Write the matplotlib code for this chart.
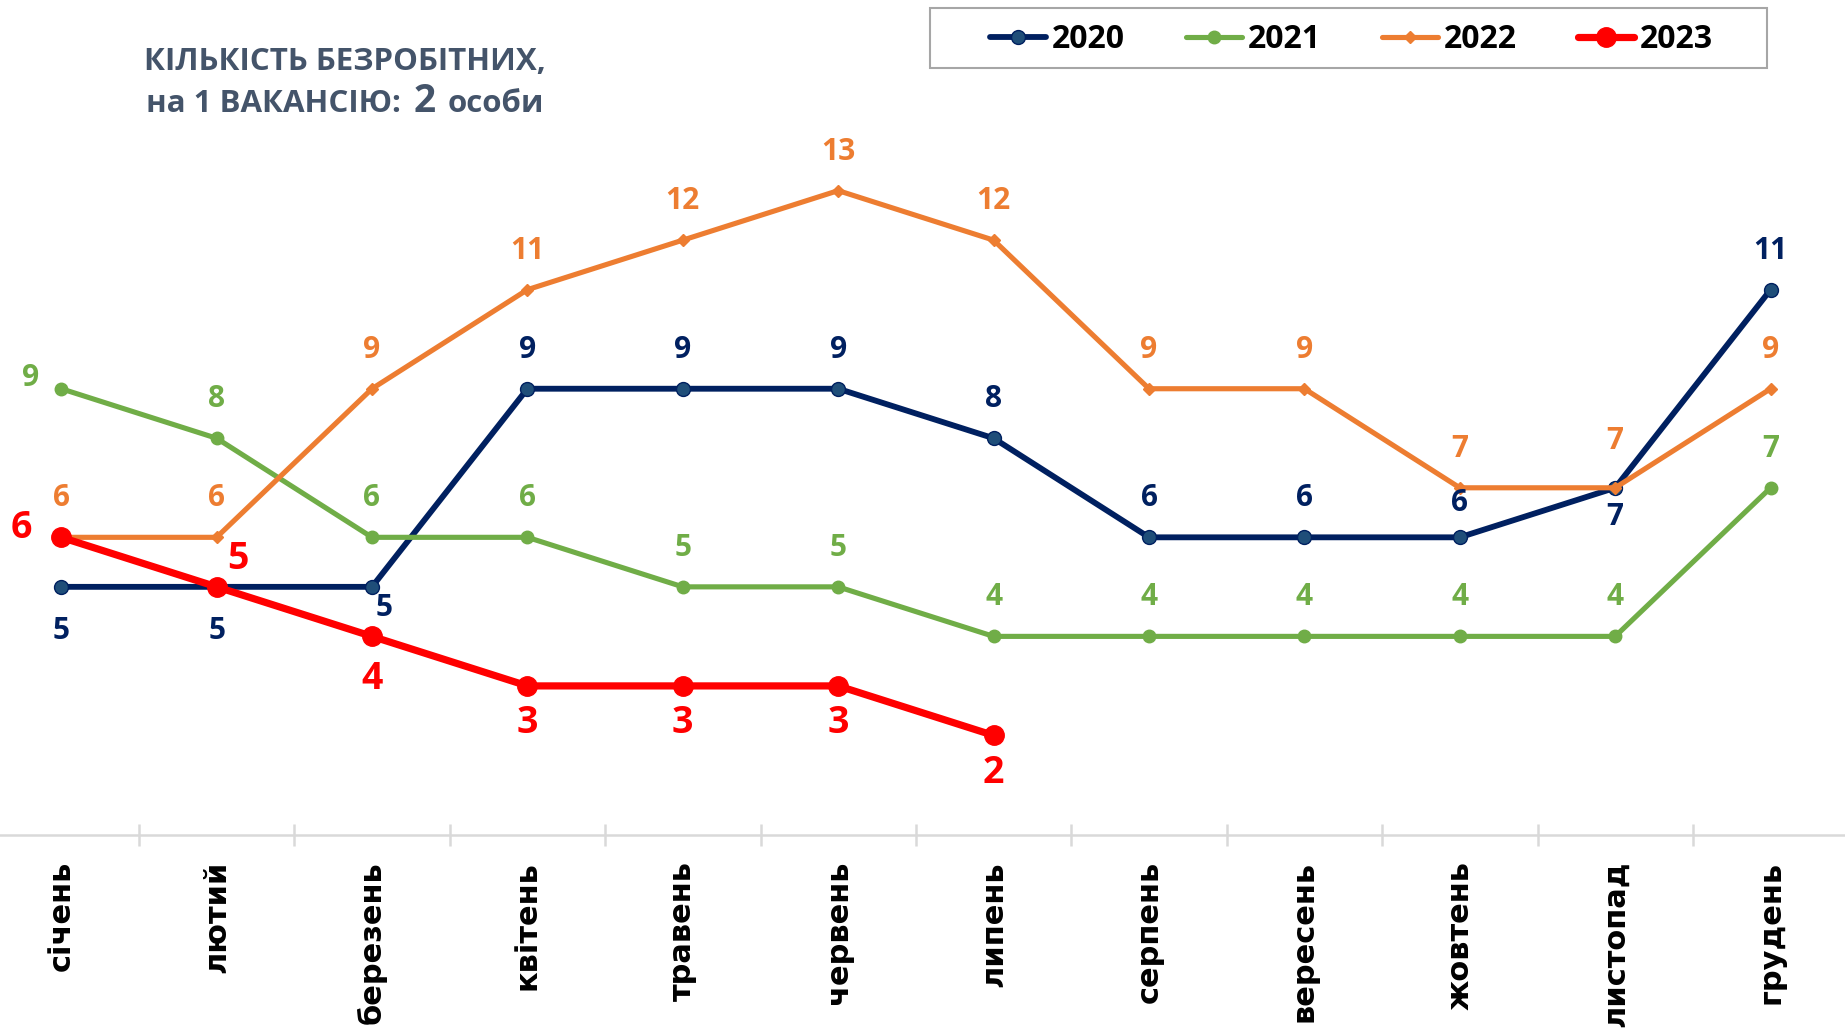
import matplotlib
matplotlib.use("Agg")
import matplotlib.pyplot as plt
from matplotlib.patches import Rectangle
from matplotlib.offsetbox import TextArea, HPacker, VPacker, AnnotationBbox

months = ["січень", "лютий", "березень", "квітень", "травень", "червень",
          "липень", "серпень", "вересень", "жовтень", "листопад", "грудень"]
years = ["2020", "2021", "2022", "2023"]
v2020 = [5, 5, 5, 9, 9, 9, 8, 6, 6, 6, 7, 11]
v2021 = [9, 8, 6, 6, 5, 5, 4, 4, 4, 4, 4, 7]
v2022 = [6, 6, 9, 11, 12, 13, 12, 9, 9, 7, 7, 9]
v2023 = [6, 5, 4, 3, 3, 3, 2]

FONT = ["Open Sans", "DejaVu Sans"]
W, H = 1845, 1033

# label offsets in points (dx, dy), per point
A = (0, 28)
off2020 = [(0, -32), (0, -32), (9, -15), A, A, A, A, A, A, (0, 25), (0, -21), A]
off2021 = [(-22, 8)] + [A] * 11
off2022 = [A] * 10 + [(0, 34), A]
off2023 = [(-29, 7), (15, 20), (0, -31), (0, -27), (0, -27), (0, -27), (0, -27)]

styles = [
    dict(color="#002060", marker="o", ms=10, mfc="#1F4E79", mec="#002060", lw=4.2),
    dict(color="#70AD47", marker="o", ms=9, mfc="#70AD47", mec="#70AD47", lw=3.7),
    dict(color="#ED7D31", marker="D", ms=6, mfc="#ED7D31", mec="#ED7D31", lw=3.7),
    dict(color="#FF0000", marker="o", ms=14, mfc="#FF0000", mec="#FF0000", lw=5.2),
]
series = [v2020, v2021, v2022, v2023]
offsets = [off2020, off2021, off2022, off2023]
lsizes = [21.5, 21.5, 21.5, 27]

fig = plt.figure(figsize=(W / 100, H / 100), dpi=100)
ax = fig.add_axes([0, 1 - 834.5 / H, 1, 834.5 / H])

handles = []
for i, (vals, st) in enumerate(zip(series, styles)):
    x = list(range(len(vals)))
    ln, = ax.plot(x, vals, clip_on=False, zorder=3 + i, solid_capstyle="round", **st)
    handles.append(ln)
    for xi, yi, (dx, dy) in zip(x, vals, offsets[i]):
        ax.annotate(str(yi), (xi, yi), xytext=(dx, dy), textcoords="offset points",
                    ha="center", va="center", color=st["color"], fontsize=lsizes[i],
                    fontweight="bold", family=FONT, zorder=10, annotation_clip=False)

ax.set_xlim(-61.2 / 155.4, (W - 61.2) / 155.4)
ax.set_ylim(0, 834.5 / 49.53)
for s in ["top", "left", "right"]:
    ax.spines[s].set_visible(False)
ax.spines["bottom"].set_color("#D9D9D9")
ax.spines["bottom"].set_linewidth(1.8)
ax.set_yticks([])
ax.set_xticks(range(12))
ax.set_xticklabels(months, rotation=90, fontsize=22, fontweight="bold",
                   family="DejaVu Sans", color="black")
ax.tick_params(axis="x", which="major", length=0, pad=19)
ax.set_xticks([k + 0.5 for k in range(11)], minor=True)
ax.tick_params(axis="x", which="minor", length=16, width=1.8, color="#D9D9D9",
               direction="inout")

# legend
fig.legend(handles, years, loc="center left", bbox_to_anchor=(990 / W, 1 - 40 / H),
           ncol=4, frameon=False, handlelength=1.75, handletextpad=0.2,
           columnspacing=1.9, borderpad=0, borderaxespad=0,
           prop=dict(family=FONT, weight="bold", size=23))
fig.patches.append(Rectangle((930 / W, 1 - 68 / H), 837 / W, 60 / H,
                             transform=fig.transFigure, fill=False,
                             edgecolor="#A6A6A6", lw=1.5))

# title
tc = "#44546A"
tp = dict(color=tc, fontweight="bold", family=FONT, fontsize=22.5)
line1 = TextArea("КІЛЬКІСТЬ БЕЗРОБІТНИХ,", textprops=tp)
line2 = HPacker(children=[TextArea("на 1 ВАКАНСІЮ:", textprops=tp),
                          TextArea(str(v2023[-1]), textprops=dict(tp, fontsize=28)),
                          TextArea("особи", textprops=tp)],
                align="baseline", pad=0, sep=9)
title = VPacker(children=[line1, line2], align="center", pad=0, sep=4)
fig.add_artist(AnnotationBbox(title, (345 / W, 1 - 84 / H), xycoords="figure fraction",
                              frameon=False, box_alignment=(0.5, 0.5)))

fig.savefig("out.png", dpi=100)
